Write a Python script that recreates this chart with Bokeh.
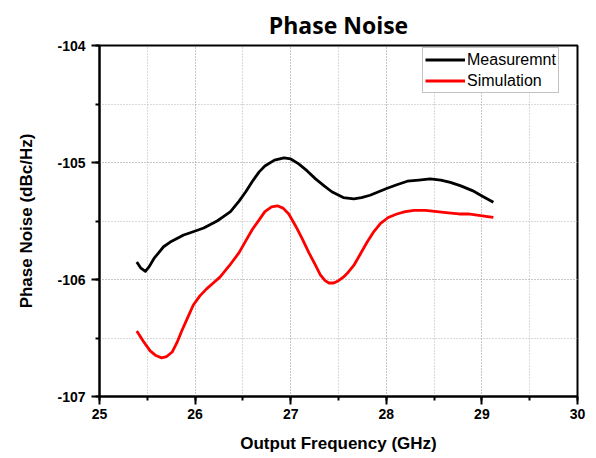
from bokeh.plotting import figure
from bokeh.models import SingleIntervalTicker, Range1d, Legend, LegendItem, PrintfTickFormatter
from bokeh.embed import file_html
from bokeh.resources import INLINE

# Measured curve (GHz, dBc/Hz)
meas_freq = [25.39, 25.43, 25.48, 25.52, 25.57, 25.62, 25.67, 25.74, 25.81, 25.88,
             25.95, 26.09, 26.16, 26.23, 26.30, 26.37, 26.46, 26.53, 26.60, 26.67,
             26.73, 26.83, 26.93, 27.00, 27.08, 27.17, 27.26, 27.35, 27.43, 27.55,
             27.66, 27.74, 27.83, 27.92, 28.01, 28.11, 28.22, 28.34, 28.46, 28.57,
             28.67, 28.78, 28.90, 29.01, 29.12]
meas_pn = [-105.85, -105.90, -105.93, -105.89, -105.82, -105.77, -105.72, -105.68, -105.65, -105.62,
           -105.60, -105.56, -105.53, -105.50, -105.46, -105.42, -105.33, -105.25, -105.16, -105.08,
           -105.03, -104.98, -104.96, -104.97, -105.01, -105.07, -105.14, -105.20, -105.25, -105.30,
           -105.31, -105.30, -105.28, -105.25, -105.22, -105.19, -105.16, -105.15, -105.14, -105.15,
           -105.17, -105.20, -105.24, -105.29, -105.34]

# Simulated curve
sim_freq = [25.39, 25.46, 25.53, 25.59, 25.65, 25.70, 25.76, 25.81, 25.86, 25.92,
            25.98, 26.05, 26.12, 26.19, 26.26, 26.36, 26.46, 26.53, 26.60, 26.67,
            26.73, 26.80, 26.86, 26.92, 26.98, 27.05, 27.12, 27.19, 27.26, 27.31,
            27.36, 27.40, 27.45, 27.50, 27.55, 27.60, 27.66, 27.73, 27.80, 27.87,
            27.94, 28.02, 28.11, 28.20, 28.29, 28.41, 28.53, 28.65, 28.76, 28.86,
            28.95, 29.04, 29.12]
sim_pn = [-106.44, -106.53, -106.61, -106.65, -106.67, -106.66, -106.62, -106.54, -106.44, -106.33,
          -106.22, -106.14, -106.08, -106.03, -105.98, -105.88, -105.77, -105.67, -105.57, -105.49,
          -105.42, -105.38, -105.37, -105.39, -105.44, -105.54, -105.65, -105.77, -105.88, -105.96,
          -106.01, -106.03, -106.03, -106.01, -105.98, -105.94, -105.88, -105.78, -105.68, -105.59,
          -105.52, -105.47, -105.44, -105.42, -105.41, -105.41, -105.42, -105.43, -105.44, -105.44,
          -105.45, -105.46, -105.47]

series_names = ["Measuremnt", "Simulation"]

p = figure(width=596, height=458, output_backend="svg", toolbar_location=None,
           x_range=Range1d(25, 30), y_range=Range1d(-107, -104),
           min_border_left=99, min_border_right=19, min_border_top=45, min_border_bottom=62,
           title="Phase Noise")

p.title.align = "center"
p.title.text_font = "Open Sans"
p.title.text_font_size = "23px"
p.title.text_font_style = "bold"
p.title.text_color = "black"
p.title.standoff = 10

r1 = p.line(meas_freq, meas_pn, line_color="black", line_width=2.8, line_join="round")
r2 = p.line(sim_freq, sim_pn, line_color="#ff0000", line_width=2.8, line_join="round")

for ax in (p.xaxis[0], p.yaxis[0]):
    ax.ticker = SingleIntervalTicker(interval=1, num_minor_ticks=2)
    ax.formatter = PrintfTickFormatter(format="%d")
    ax.axis_line_width = 2
    ax.axis_line_color = "black"
    ax.major_tick_line_width = 2
    ax.minor_tick_line_width = 2
    ax.major_tick_out = 8
    ax.major_tick_in = 0
    ax.minor_tick_out = 4
    ax.minor_tick_in = 0
    ax.major_label_text_font = "Liberation Sans"
    ax.major_label_text_font_size = "14px"
    ax.major_label_text_font_style = "bold"
    ax.major_label_text_color = "black"
    ax.axis_label_text_font = "Liberation Sans"
    ax.axis_label_text_font_size = "17px"
    ax.axis_label_text_font_style = "bold"
    ax.axis_label_text_color = "black"

p.xaxis.axis_label = "Output Frequency (GHz)"
p.yaxis.axis_label = "Phase Noise (dBc/Hz)"
p.xaxis.major_label_standoff = 4
p.xaxis.axis_label_standoff = 12
p.yaxis.major_label_standoff = 6
p.yaxis.axis_label_standoff = 18

for g in (p.xgrid[0], p.ygrid[0]):
    g.grid_line_color = "#b4b4b4"
    g.grid_line_dash = "1 2"
    g.grid_line_width = 1
    g.minor_grid_line_color = "#b4b4b4"
    g.minor_grid_line_dash = "1 2"
    g.minor_grid_line_width = 1

p.outline_line_color = "black"
p.outline_line_width = 2
p.outline_line_alpha = 1

legend = Legend(items=[LegendItem(label=series_names[0], renderers=[r1]),
                       LegendItem(label=series_names[1], renderers=[r2])],
                location=(323, 303))
legend.margin = 0
legend.padding = 2
legend.spacing = 2
legend.glyph_width = 40
legend.glyph_height = 19
legend.label_height = 19
legend.label_standoff = 2
legend.label_text_font = "Liberation Sans"
legend.label_text_font_size = "16px"
legend.label_text_color = "black"
legend.border_line_color = "#888888"
legend.border_line_width = 1
legend.background_fill_color = "white"
legend.background_fill_alpha = 1
p.add_layout(legend, "center")

open("out.html", "w").write(file_html(p, INLINE))
